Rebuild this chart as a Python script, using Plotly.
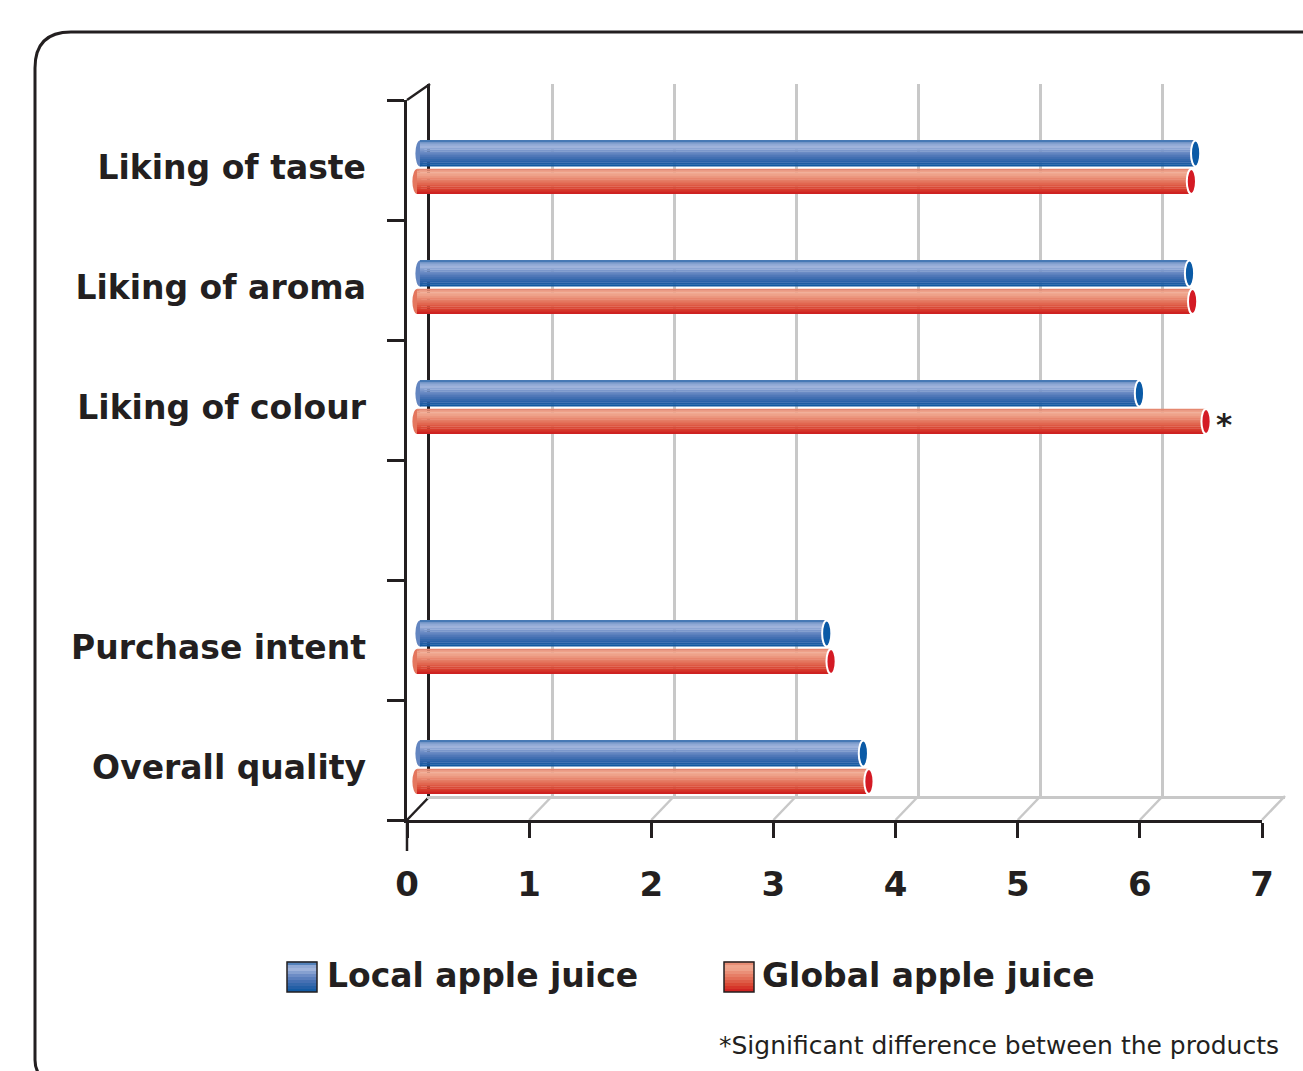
import plotly.graph_objects as go

# ---- data -------------------------------------------------------------
slots = ["Liking of taste", "Liking of aroma", "Liking of colour", "",
         "Purchase intent", "Overall quality"]
categories = ["Liking of taste", "Liking of aroma", "Liking of colour",
              "Purchase intent", "Overall quality"]
local_vals = [6.35, 6.30, 5.89, 3.33, 3.63]
global_vals = [6.34, 6.35, 6.46, 3.39, 3.70]
significant = [False, False, True, False, False]
x_ticks = [0, 1, 2, 3, 4, 5, 6, 7]
series_names = ["Local apple juice", "Global apple juice"]
footnote = "*Significant difference between the products"

# ---- page geometry (pixels) -------------------------------------------
W, H = 1303, 1071
X_FRONT0, X_FRONT7 = 407, 1262          # front floor axis
DX, DY = 23, -24                        # depth offset of the back wall
Y_BOTTOM, Y_TOP = 820, 100              # front left axis
UNIT = (X_FRONT7 - X_FRONT0) / 7
XMAX = 7
XPAD = 0.1                              # room for the rounded tube starts
NSLOT = len(slots)

def px(x):
    return x / W

def py(y):
    return 1 - y / H

INK = "#231f20"
GRID = "#c8c8c8"
FONT = "DejaVu Sans"

pos = {name: NSLOT - 1 - i + 0.5 for i, name in enumerate(slots) if name}
ys = [pos[c] for c in categories]


def hex2rgb(h):
    h = h.lstrip("#")
    return tuple(int(h[i:i + 2], 16) for i in (0, 2, 4))


def ramp(stops, t):
    for (t0, c0), (t1, c1) in zip(stops, stops[1:]):
        if t0 <= t <= t1:
            f = (t - t0) / (t1 - t0) if t1 > t0 else 0
            a, b = hex2rgb(c0), hex2rgb(c1)
            return "rgb(%d,%d,%d)" % tuple(round(a[k] + (b[k] - a[k]) * f) for k in range(3))
    return stops[-1][1]


# cylinder shading, bottom (0) to top (1)
blue_stops = [(0.0, "#0b57a0"), (0.15, "#245fa6"), (0.35, "#4670b3"),
              (0.55, "#6d8cc5"), (0.75, "#9fb3db"), (0.88, "#8da6d3"),
              (1.0, "#2a66a8")]
red_stops = [(0.0, "#cc1a1e"), (0.2, "#d8402e"), (0.4, "#e0664f"),
             (0.6, "#e8866e"), (0.8, "#f0aa92"), (0.9, "#eea088"),
             (1.0, "#e07a62")]

series = [
    # name, values, x axis, zero pixel, bottom offset, thickness, shading, cap colour
    (series_names[0], local_vals, "x4", 420, -0.054, 0.217, blue_stops, "#0a5aa6"),
    (series_names[1], global_vals, "x3", 417, -0.283, 0.208, red_stops, "#d41a24"),
]

# labels sit at the middle of each pair of tubes
pair_mid = (series[0][4] + series[0][5] + series[1][4]) / 2
label_ys = [y + pair_mid for y in ys]

fig = go.Figure()
shapes = []
annotations = []

# back wall grid (own axes so the wall can sit behind the bars)
fig.add_trace(go.Scatter(x=[None], y=[None], xaxis="x2", yaxis="y3",
                         showlegend=False, hoverinfo="skip"))
# category labels axis
fig.add_trace(go.Scatter(x=[0] * len(label_ys), y=label_ys, xaxis="x", yaxis="y2",
                         mode="markers", marker=dict(opacity=0),
                         showlegend=False, hoverinfo="skip"))

NB = 14
for name, vals, xa, start, bot, thick, stops, capc in series:
    bw = thick / NB
    for b in range(NB):
        t = (b + 0.5) / NB
        fig.add_trace(go.Bar(
            x=vals, y=ys, orientation="h",
            width=[bw + 0.003] * len(vals), offset=bot + b * bw,
            marker=dict(color=ramp(stops, t), line=dict(width=0)),
            xaxis=xa, yaxis="y", name=name, showlegend=False,
            hoverinfo="x+name" if b == NB // 2 else "skip",
        ))
    half = 4.6 / UNIT
    for v, y in zip(vals, ys):
        # rounded start of the tube
        shapes.append(dict(type="circle", xref=xa, yref="y", layer="between",
                           x0=-half, x1=half, y0=y + bot, y1=y + bot + thick,
                           fillcolor=ramp(stops, 0.5), line=dict(width=0)))
        # open end of the tube
        shapes.append(dict(type="circle", xref=xa, yref="y", layer="above",
                           x0=v - half, x1=v + half, y0=y + bot, y1=y + bot + thick,
                           fillcolor=capc, line=dict(color="white", width=2)))

# significance markers on the global series
g_name, g_vals, g_xa, _, g_bot, g_thick, _, _ = series[1]
for v, y, s in zip(g_vals, ys, significant):
    if s:
        annotations.append(dict(x=v, y=y + g_bot + g_thick / 2, xref=g_xa, yref="y",
                                text="<b>*</b>", showarrow=False, xanchor="left",
                                xshift=8, yshift=-3,
                                font=dict(family=FONT, size=31, color=INK)))

# floor: diagonals from each front tick to the back wall
for k in x_ticks:
    xf = X_FRONT0 + k * UNIT
    shapes.append(dict(type="line", xref="paper", yref="paper", layer="below",
                       x0=px(xf), y0=py(Y_BOTTOM), x1=px(xf + DX), y1=py(Y_BOTTOM + DY),
                       line=dict(color=INK if k == 0 else GRID, width=2.5)))
# top edge of the left wall
shapes.append(dict(type="line", xref="paper", yref="paper",
                   x0=px(X_FRONT0), y0=py(Y_TOP), x1=px(X_FRONT0 + DX), y1=py(Y_TOP - 16),
                   line=dict(color=INK, width=2.5)))
# longer tick at the origin
shapes.append(dict(type="line", xref="paper", yref="paper",
                   x0=px(X_FRONT0), y0=py(Y_BOTTOM), x1=px(X_FRONT0), y1=py(Y_BOTTOM + 31),
                   line=dict(color=INK, width=2.5)))

# panel frame with a rounded corner
fx, fy, r = px(35), py(32), 36
frame = (f"M {fx},{py(1060)} L {fx},{py(32 + r)} "
         f"Q {fx},{fy} {px(35 + r)},{fy} L {px(1310)},{fy}")
shapes.append(dict(type="path", xref="paper", yref="paper", path=frame,
                   line=dict(color=INK, width=3)))
shapes.append(dict(type="path", xref="paper", yref="paper",
                   path=f"M {fx},{py(1060)} Q {fx},{py(1068)} {px(39)},{py(1074)}",
                   line=dict(color=INK, width=3)))

# legend
leg = [(series_names[0], blue_stops, 287, 325), (series_names[1], red_stops, 724, 760)]
SW_T, SW = 962, 30
for name, stops, sx, tx in leg:
    n = 10
    for b in range(n):
        t = (b + 0.5) / n
        y1 = SW_T + SW - b * SW / n
        y0 = y1 - SW / n - 0.4
        shapes.append(dict(type="rect", xref="paper", yref="paper",
                           x0=px(sx), x1=px(sx + SW), y0=py(y1), y1=py(y0),
                           fillcolor=ramp(stops, t), line=dict(width=0)))
    shapes.append(dict(type="rect", xref="paper", yref="paper",
                       x0=px(sx), x1=px(sx + SW), y0=py(SW_T + SW), y1=py(SW_T),
                       line=dict(color=INK, width=1.5)))
    annotations.append(dict(x=px(tx), y=py(975), xref="paper", yref="paper",
                            text=f"<b>{name}</b>", showarrow=False,
                            xanchor="left", yanchor="middle",
                            font=dict(family=FONT, size=33, color=INK)))

annotations.append(dict(x=px(1281), y=py(1045), xref="paper", yref="paper",
                        text=footnote, showarrow=False, xanchor="right",
                        yanchor="middle", font=dict(family=FONT, size=25, color=INK)))

front_dom = [px(X_FRONT0), px(X_FRONT7)]
ydom = [py(Y_BOTTOM), py(Y_TOP)]


def tube_axis(zero_px):
    return dict(domain=[px(zero_px - XPAD * UNIT), px(zero_px + XMAX * UNIT)],
                range=[-XPAD, XMAX], visible=False, anchor="y", fixedrange=True)


fig.update_layout(
    width=W, height=H,
    margin=dict(l=0, r=0, t=0, b=0, pad=0, autoexpand=False),
    paper_bgcolor="white", plot_bgcolor="rgba(0,0,0,0)",
    barmode="overlay",
    showlegend=False,
    xaxis=dict(domain=front_dom, range=[0, XMAX], anchor="y",
               tickvals=x_ticks, ticktext=[f"<b>{t}</b>" for t in x_ticks],
               ticks="outside", ticklen=15, tickwidth=2.5, tickcolor=INK,
               showline=True, linecolor=INK, linewidth=2.5,
               showgrid=False, zeroline=False, ticklabelstandoff=17,
               automargin=False,
               tickfont=dict(family=FONT, size=34, color=INK)),
    yaxis=dict(domain=ydom, range=[0, NSLOT], anchor="x",
               tickvals=list(range(NSLOT + 1)), showticklabels=False,
               ticks="outside", ticklen=17, tickwidth=2.5, tickcolor=INK,
               showline=True, linecolor=INK, linewidth=2.5,
               showgrid=False, zeroline=False, automargin=False),
    yaxis2=dict(overlaying="y", range=[0, NSLOT], anchor="x", side="left",
                tickvals=label_ys, ticktext=[f"<b>{c}</b>" for c in categories],
                ticks="", showline=False, showgrid=False, zeroline=False,
                ticklabelstandoff=40, automargin=False,
                tickfont=dict(family=FONT, size=33, color=INK)),
    xaxis2=dict(domain=[px(X_FRONT0 + DX), px(X_FRONT7 + DX)], range=[0, XMAX],
                anchor="y3", tickvals=x_ticks[1:], showticklabels=False, ticks="",
                showgrid=True, gridcolor=GRID, gridwidth=2.5, automargin=False,
                showline=True, linecolor=GRID, linewidth=2.5, zeroline=False),
    yaxis3=dict(domain=[py(Y_BOTTOM + DY), py(84)], range=[0, 1], anchor="x2",
                showticklabels=False, ticks="", showgrid=False, zeroline=False,
                showline=True, linecolor=INK, linewidth=2.5, automargin=False),
    xaxis3=tube_axis(series[1][3]),
    xaxis4=tube_axis(series[0][3]),
    shapes=shapes,
    annotations=annotations,
)

fig.write_html("out.html")
